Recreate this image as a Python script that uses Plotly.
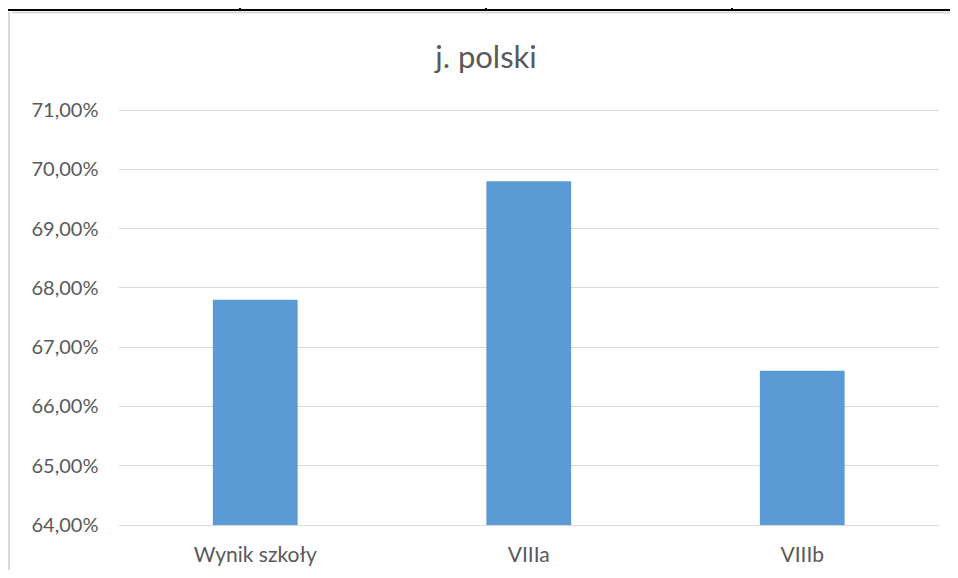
import plotly.graph_objects as go

categories = ["Wynik szkoły", "VIIIa", "VIIIb"]
values = [0.678, 0.698, 0.666]
title_text = "j. polski"

# page body has an 8px margin; figure sized so that page fits the 958x578 window
OFF = 8
W, H = 942, 562
def px(x): return (x - OFF) / W
def py(y): return 1 - (y - OFF) / H

Y_MIN, Y_MAX, Y_PAD = 0.64, 0.71, 0.0002
PX_PER_UNIT = (525 - 110) / (Y_MAX - Y_MIN)

fig = go.Figure(go.Bar(x=categories, y=values, marker=dict(color="#5b9bd5", line=dict(width=0)),
                       width=0.31))

shapes = [
    dict(type="line", xref="paper", yref="paper", x0=0, x1=1, y0=py(10), y1=py(10),
         line=dict(color="black", width=2)),
]
for xv in [240, 486, 732]:
    shapes.append(dict(type="line", xref="paper", yref="paper", x0=px(xv), x1=px(xv), y0=1, y1=py(10),
                       line=dict(color="black", width=2)))
shapes.append(dict(type="line", xref="paper", yref="paper", x0=px(12), x1=1, y0=py(12.5), y1=py(12.5),
                   line=dict(color="#d9d9d9", width=2)))
shapes.append(dict(type="line", xref="paper", yref="paper", x0=px(9), x1=px(9), y0=py(12), y1=0,
                   line=dict(color="#d9d9d9", width=2)))

fig.update_layout(
    width=W, height=H,
    margin=dict(l=0, r=0, t=0, b=0, autoexpand=False),
    paper_bgcolor="white", plot_bgcolor="white",
    separators=", ",
    font=dict(family="Lato, Open Sans, sans-serif", color="#595959", size=20),
    title=dict(text=title_text, x=px(486), xanchor="center", y=py(57), yanchor="middle",
               font=dict(size=31, color="#595959")),
    showlegend=False,
    bargap=0.69,
    shapes=shapes,
    xaxis=dict(domain=[px(118.5), px(939)], showgrid=False, showline=True, linecolor="#d9d9d9",
               linewidth=1, ticks="", automargin=False,
               tickfont=dict(size=21, color="#595959"), ticklabelstandoff=11),
    yaxis=dict(domain=[py(525), py(110 - Y_PAD * PX_PER_UNIT)], range=[Y_MIN, Y_MAX + Y_PAD],
               dtick=0.01, tick0=0.64,
               tickformat=".2%", showgrid=True, gridcolor="#d9d9d9", gridwidth=1,
               zeroline=False, showline=False, ticks="", ticklabelstandoff=19, automargin=False,
               tickfont=dict(size=20, color="#595959")),
)

fig.write_html("out.html")
